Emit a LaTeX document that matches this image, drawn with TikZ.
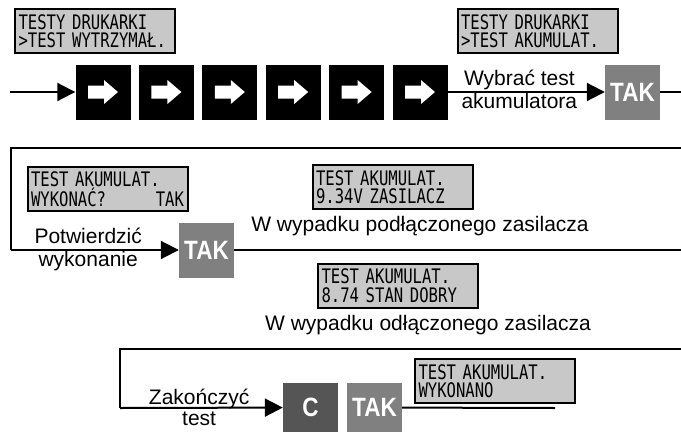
\documentclass[tikz,border=0pt]{standalone}
\usepackage{fontspec}
\setmainfont{Liberation Sans}
\newfontfamily\lcdfont[FakeStretch=0.78]{DejaVu Sans Mono}
\newfontfamily\keyfont[FakeStretch=0.85]{Liberation Sans}
\usetikzlibrary{arrows.meta,positioning,calc}
\definecolor{LcdGray}{HTML}{C8C8C8}
\definecolor{KeyGray}{HTML}{808080}
\definecolor{KeyDark}{HTML}{555555}
\tikzset{
  lcd/.style={draw, line width=2pt, fill=LcdGray, text width=153pt, minimum height=44pt, inner xsep=3.5pt, inner ysep=1pt, align=left, font=\lcdfont\fontsize{20}{18.5}\selectfont},
  navkey/.style={fill=black, minimum size=55pt, inner sep=0pt},
  takkey/.style={fill=KeyGray, text=white, minimum size=55pt, inner sep=0pt, font=\keyfont\bfseries\fontsize{26.5}{26.5}\selectfont},
  flow/.style={line width=2pt},
  flowarrow/.style={flow, -{Triangle[length=18pt,width=18pt]}},
  lbl/.style={font=\fontsize{21}{23}\selectfont, inner sep=1pt},
}
\begin{document}
\begin{tikzpicture}[x=1pt,y=1pt]
  \useasboundingbox (0,0) rectangle (681,-432);
  % row 1: choose the test
  \node[lcd] (lcdWytrz) at (95,-31) {TESTY DRUKARKI\\>TEST WYTRZYMAŁ.};
  \node[lcd] (lcdAkum) at (537.5,-31) {TESTY DRUKARKI\\>TEST AKUMULAT.};
  \coordinate (r1in) at (10,-92);
  \node[navkey] (k1) at (103,-92) {};
  \node[navkey, right=8pt of k1] (k2) {};
  \node[navkey, right=8pt of k2] (k3) {};
  \node[navkey, right=8pt of k3] (k4) {};
  \node[navkey, right=8pt of k4] (k5) {};
  \node[navkey, right=8pt of k5] (k6) {};
  \foreach \k in {1,...,6}
    \fill[white] ([shift={(-15,6.5)}]k\k.center) -- ++(16,0) -- ++(0,5.5) -- ++(14,-12) -- ++(-14,-12) -- ++(0,5.5) -- ++(-16,0) -- cycle;
  \node[takkey] (tak1) at (632.5,-92) {TAK};
  \coordinate (r1out) at (681,-92);
  \draw[flowarrow] (r1in) -- (k1);
  \draw[flowarrow] (k6) -- node[lbl, above, pos=0.456] {Wybrać test} node[lbl, below, pos=0.456, inner sep=0.5pt] {akumulatora} (tak1);
  \draw[flow] (tak1) -- (r1out);
  % row 2: run the test
  \node[lcd] (lcdWykonac) at (107.5,-189) {TEST AKUMULAT.\\WYKONAĆ?\hfill TAK};
  \node[lcd] (lcdZasilacz) at (392.5,-187) {TEST AKUMULAT.\\9.34V ZASILACZ};
  \node[lbl] (noteZas) at (420,-226.5) {W wypadku podłączonego zasilacza};
  \node[takkey] (tak2) at (206.5,-250) {TAK};
  \coordinate (r2in) at (681,-148);
  \coordinate (r2corner) at (11,-148);
  \coordinate (r2bend) at (11,-250);
  \coordinate (r2out) at (681,-250);
  \draw[flow] (r2in) -- (r2corner) -- (r2bend);
  \draw[flowarrow] (r2bend) -- node[lbl, above=4pt, pos=0.46] {Potwierdzić} node[lbl, below, pos=0.46, inner sep=0.5pt] {wykonanie} (tak2);
  \draw[flow] (tak2) -- (r2out);
  \node[lcd] (lcdDobry) at (398,-285.5) {TEST AKUMULAT.\\8.74 STAN DOBRY};
  \node[lbl] (noteAku) at (428,-325) {W wypadku odłączonego zasilacza};
  % row 3: finish the test
  \node[takkey, fill=KeyDark, minimum height=49pt] (cKey) at (310.5,-407.5) {C};
  \node[takkey, minimum height=49pt] (tak3) at (374.5,-407.5) {TAK};
  \node[lcd] (lcdWykonano) at (495,-381) {TEST AKUMULAT.\\WYKONANO};
  \coordinate (r3in) at (681,-349);
  \coordinate (r3corner) at (120,-349);
  \coordinate (r3bend) at (120,-408);
  \coordinate (r3end) at (555,-408);
  \draw[flow] (r3in) -- (r3corner) -- (r3bend);
  \draw[flowarrow] (r3bend) -- node[lbl, pos=0.486, anchor=base, yshift=3pt] {Zakończyć} node[lbl, below=3pt, pos=0.486, inner sep=0pt] {test} (cKey);
  \draw[flow] (tak3) -- (r3end);
\end{tikzpicture}
\end{document}
